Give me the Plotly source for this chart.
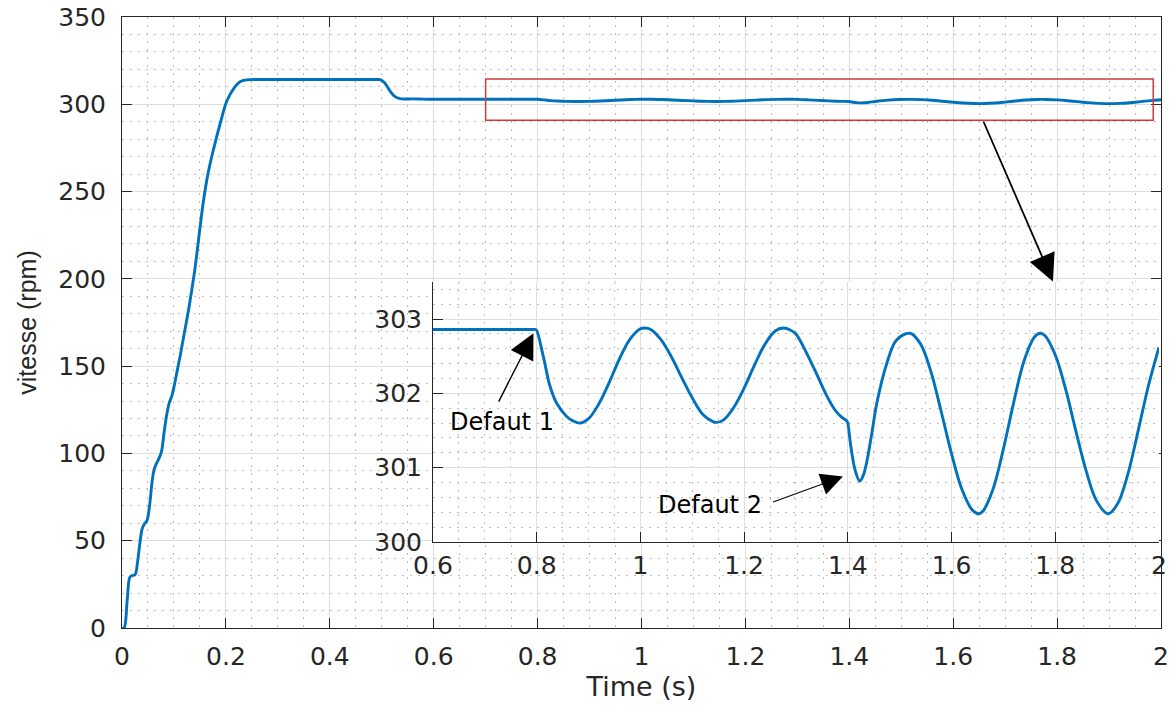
import plotly.graph_objects as go

# ---------------- data ----------------
time_s = [0.000, 0.004, 0.010, 0.015, 0.019, 0.025, 0.030, 0.035, 0.039, 0.044,
          0.048, 0.053, 0.058, 0.062, 0.066, 0.071, 0.076, 0.081, 0.086, 0.091,
          0.096, 0.100, 0.106, 0.112, 0.120, 0.128, 0.135, 0.141, 0.150, 0.157,
          0.166, 0.176, 0.189, 0.202, 0.215, 0.228, 0.240, 0.260, 0.300, 0.400,
          0.480, 0.492, 0.497, 0.505, 0.515, 0.525, 0.535, 0.545, 0.560, 0.580,
          0.600, 0.650, 0.700, 0.750, 0.790, 0.798, 0.800, 0.8127, 0.8256, 0.8384,
          0.8577, 0.870, 0.883, 0.900, 0.920, 0.940, 0.960, 0.980, 1.000, 1.008,
          1.020, 1.040, 1.060, 1.080, 1.100, 1.120, 1.140, 1.147, 1.160, 1.180,
          1.200, 1.220, 1.240, 1.260, 1.276, 1.290, 1.300, 1.320, 1.340, 1.360,
          1.375, 1.388, 1.398, 1.400, 1.405, 1.414, 1.423, 1.430, 1.436, 1.446,
          1.456, 1.475, 1.494, 1.520, 1.540, 1.560, 1.580, 1.600, 1.620, 1.640,
          1.652, 1.660, 1.680, 1.700, 1.720, 1.740, 1.760, 1.771, 1.780, 1.800,
          1.820, 1.840, 1.860, 1.880, 1.902, 1.920, 1.940, 1.960, 1.980, 2.000]
speed_rpm = [0, 0, 16, 29, 30, 30.5, 38, 50, 57, 60,
             61.5, 70, 84, 91, 94, 97, 101, 112, 122, 129,
             133, 138, 147, 156, 169, 182, 195, 207, 229, 245,
             261, 274, 289, 302, 309, 313, 314, 314.2, 314.2, 314.2,
             314.2, 314.2, 314.1, 312.5, 308, 304.5, 303.2, 303.0, 303.1, 302.95,
             302.86, 302.86, 302.86, 302.86, 302.86, 302.86, 302.85, 302.50, 302.10, 301.87,
             301.69, 301.63, 301.60, 301.66, 301.86, 302.15, 302.47, 302.73, 302.87, 302.88,
             302.86, 302.72, 302.49, 302.21, 301.94, 301.72, 301.62, 301.61, 301.64, 301.81,
             302.07, 302.38, 302.66, 302.84, 302.88, 302.85, 302.80, 302.55, 302.26, 301.96,
             301.78, 301.68, 301.63, 301.60, 301.33, 300.97, 300.82, 300.90, 301.06, 301.45,
             301.87, 302.40, 302.72, 302.81, 302.67, 302.30, 301.76, 301.19, 300.71, 300.43,
             300.38, 300.41, 300.71, 301.25, 301.88, 302.44, 302.76, 302.81, 302.78, 302.52,
             302.06, 301.49, 300.95, 300.55, 300.38, 300.51, 300.91, 301.50, 302.11, 302.62]

main_x_ticks = [0, 0.2, 0.4, 0.6, 0.8, 1.0, 1.2, 1.4, 1.6, 1.8, 2.0]
main_x_labels = ["0", "0.2", "0.4", "0.6", "0.8", "1", "1.2", "1.4", "1.6", "1.8", "2"]
main_y_ticks = [0, 50, 100, 150, 200, 250, 300, 350]
main_y_labels = ["0", "50", "100", "150", "200", "250", "300", "350"]
inset_x_ticks = [0.6, 0.8, 1.0, 1.2, 1.4, 1.6, 1.8, 2.0]
inset_x_labels = ["0.6", "0.8", "1", "1.2", "1.4", "1.6", "1.8", "2"]
inset_y_ticks = [300, 301, 302, 303]
inset_y_labels = ["300", "301", "302", "303"]

inset_start = 0.6
t_inset = [t for t in time_s if t >= inset_start]
v_inset = [v for t, v in zip(time_s, speed_rpm) if t >= inset_start]

# ---------------- styling ----------------
BLUE = "#0072BD"
DARK = "#262626"
GRID = "#dedede"
MINOR = "#bfbfbf"
FONT = "DejaVu Sans"

fig = go.Figure()
fig.add_trace(go.Scatter(x=time_s, y=speed_rpm, mode="lines", xaxis="x", yaxis="y",
                         line=dict(color=BLUE, width=2.9, shape="spline"),
                         showlegend=False, hoverinfo="skip"))
fig.add_trace(go.Scatter(x=t_inset, y=v_inset, mode="lines", xaxis="x2", yaxis="y2",
                         line=dict(color=BLUE, width=2.9, shape="spline"),
                         showlegend=False, hoverinfo="skip"))


def axis_style(rng, tickvals, ticktext, minor_dtick, mirror, domain, anchor, standoff):
    return dict(
        range=rng, domain=domain, anchor=anchor, automargin=False,
        tickmode="array", tickvals=tickvals, ticktext=ticktext,
        ticks="inside", ticklen=10, tickwidth=1, tickcolor=DARK,
        showline=True, linecolor=DARK, linewidth=1, mirror=mirror,
        showgrid=True, gridcolor=GRID, gridwidth=1, zeroline=False,
        minor=dict(dtick=minor_dtick, tick0=rng[0], showgrid=True, gridcolor=MINOR,
                   griddash="2px,6px", gridwidth=1, ticks=""),
        tickfont=dict(family=FONT, size=25, color=DARK),
        ticklabelstandoff=standoff,
        fixedrange=True,
    )


xaxis = axis_style([0, 2], main_x_ticks, main_x_labels, 0.05, "ticks", [0, 1], "y", 6)
xaxis["title"] = dict(text="Time (s)", font=dict(family=FONT, size=27, color=DARK), standoff=4)
yaxis = axis_style([0, 350], main_y_ticks, main_y_labels, 10, "ticks", [0, 1], "x", 10)
yaxis["title"] = dict(text="vitesse (rpm)", font=dict(family="Liberation Sans", size=25, color=DARK),
                      standoff=14)
xaxis2 = axis_style([0.6, 2], inset_x_ticks, inset_x_labels, 0.05, False, [0.2993, 0.998], "y2", 1)
yaxis2 = axis_style([300, 303.5], inset_y_ticks, inset_y_labels, 0.2, False, [0.1408, 0.5663], "x2", 5)

fig.update_layout(
    width=1171, height=709, autosize=False,
    margin=dict(l=122, r=10, t=17, b=81, pad=0),
    paper_bgcolor="white", plot_bgcolor="white",
    xaxis=xaxis, yaxis=yaxis, xaxis2=xaxis2, yaxis2=yaxis2,
)

# white background of the inset
fig.add_shape(type="rect", xref="x2 domain", yref="y2 domain", x0=0, x1=1, y0=0, y1=1,
              fillcolor="white", line=dict(width=0), layer="below")

# red zoom rectangle on the main axes
fig.add_shape(type="rect", xref="x", yref="y", x0=0.70, x1=1.985, y0=290.8, y1=314.5,
              line=dict(color="#d03c3c", width=1.5), fillcolor="rgba(0,0,0,0)")

# arrows
fig.add_annotation(x=1.792, y=198.5, ax=1.657, ay=291.0, xref="x", yref="y",
                   axref="x", ayref="y", text="", showarrow=True,
                   arrowhead=2, arrowsize=3.0, arrowwidth=1.8, arrowcolor="black", standoff=0)
fig.add_annotation(x=0.7938, y=302.81, ax=0.7253, ay=301.87, xref="x2", yref="y2",
                   axref="x2", ayref="y2", text="", showarrow=True,
                   arrowhead=2, arrowsize=3.6, arrowwidth=1.4, arrowcolor="black", standoff=0)
fig.add_annotation(x=1.3906, y=300.88, ax=1.2531, ay=300.53, xref="x2", yref="y2",
                   axref="x2", ayref="y2", text="", showarrow=True,
                   arrowhead=2, arrowsize=4.0, arrowwidth=1.1, arrowcolor="black", standoff=0)

# labels
fig.add_annotation(x=0.7325, y=301.62, xref="x2", yref="y2", text="Defaut 1", showarrow=False,
                   font=dict(family=FONT, size=24, color="black"), bgcolor="rgba(0,0,0,0)")
fig.add_annotation(x=1.1338, y=300.50, xref="x2", yref="y2", text="Defaut 2", showarrow=False,
                   font=dict(family=FONT, size=24, color="black"), bgcolor="rgba(0,0,0,0)")

fig.write_html("out.html")
